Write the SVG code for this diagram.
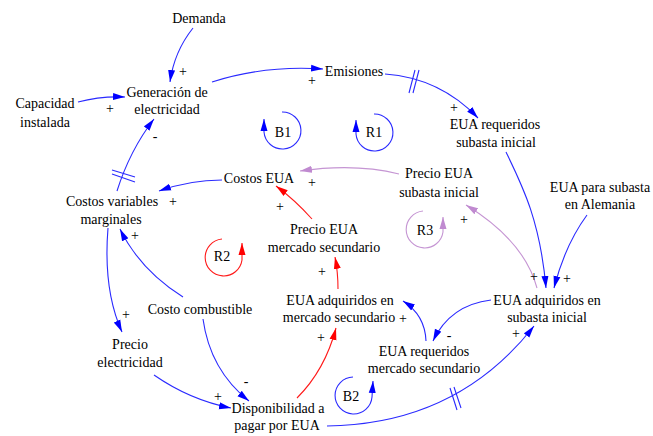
<svg xmlns="http://www.w3.org/2000/svg" width="653" height="436" viewBox="0 0 653 436" font-family="'Liberation Serif', 'DejaVu Serif', 'Times New Roman', Times, serif">
<style>
text{font-family:'Liberation Serif','DejaVu Serif','Times New Roman',Times,serif;font-size:14px;fill:#000;text-anchor:middle}
.b{fill:none;stroke:#2a2aff;stroke-width:1.1}
.p{fill:none;stroke:#c595d3;stroke-width:1.1}
.r{fill:none;stroke:#ff1a1a;stroke-width:1.1}
.h{fill:none;stroke:#2a2aff;stroke-width:1.1}
</style>
<defs>
<marker id="ab" markerUnits="userSpaceOnUse" markerWidth="13" markerHeight="8" refX="12" refY="4" orient="auto"><path d="M0,0.5 L12,4 L0,7.5 z" fill="#0000ff"/></marker>
<marker id="ap" markerUnits="userSpaceOnUse" markerWidth="13" markerHeight="8" refX="12" refY="4" orient="auto"><path d="M0,0.5 L12,4 L0,7.5 z" fill="#c08ad0"/></marker>
<marker id="ar" markerUnits="userSpaceOnUse" markerWidth="13" markerHeight="8" refX="12" refY="4" orient="auto"><path d="M0,0.5 L12,4 L0,7.5 z" fill="#ff0000"/></marker>
</defs>

<g id="connectors">
<path class="b" d="M193,28 Q174,52 170,82" marker-end="url(#ab)"/>
<path class="b" d="M78,102 Q100,96 125,97" marker-end="url(#ab)"/>
<path class="b" d="M212,82 Q265,65 323,69" marker-end="url(#ab)"/>
<path class="b" d="M385,74 Q440,78 478,118" marker-end="url(#ab)"/>
<path class="h" d="M409,93 L415,70 M413,93 L419,70"/>
<path class="b" d="M506,152 C522,185 540,220 546,288" marker-end="url(#ab)"/>
<path class="b" d="M587,215 Q565,245 554,288" marker-end="url(#ab)"/>
<path class="p" d="M537,288 C530,262 510,232 466,205" marker-end="url(#ap)"/>
<path class="p" d="M399,174 Q355,163 300,171" marker-end="url(#ap)"/>
<path class="b" d="M222,180 Q190,180 159,191" marker-end="url(#ab)"/>
<path class="r" d="M312,219 Q295,200 276,186" marker-end="url(#ar)"/>
<path class="r" d="M338,289 Q338,272 335,257" marker-end="url(#ar)"/>
<path class="r" d="M297,398 Q325,370 336,328" marker-end="url(#ar)"/>
<path class="b" d="M491,300 Q450,305 433,341" marker-end="url(#ab)"/>
<path class="b" d="M426,341 Q425,315 403,301" marker-end="url(#ab)"/>
<path class="b" d="M327,426 C410,425 480,395 534,326" marker-end="url(#ab)"/>
<path class="h" d="M450,388 L457,410 M454,387 L461,408"/>
<path class="b" d="M183,297 Q140,270 120,229" marker-end="url(#ab)"/>
<path class="b" d="M203,319 Q210,370 249,401" marker-end="url(#ab)"/>
<path class="b" d="M154,375 Q190,400 231,408" marker-end="url(#ab)"/>
<path class="b" d="M108,228 Q103,290 122,332" marker-end="url(#ab)"/>
<path class="b" d="M117,191 Q130,150 154,119" marker-end="url(#ab)"/>
<path class="h" d="M112,170 L135,177 M112,174 L135,182"/>
</g>

<g id="polarities">
<text x="183" y="76">+</text>
<text x="110" y="113">+</text>
<text x="312" y="85">+</text>
<text x="454" y="112">+</text>
<text x="534" y="281">+</text>
<text x="567" y="283">+</text>
<text x="464" y="224">+</text>
<text x="312" y="187">+</text>
<text x="173" y="206">+</text>
<text x="280" y="211">+</text>
<text x="322" y="276">+</text>
<text x="321" y="342">+</text>
<text x="449" y="340">-</text>
<text x="403" y="323">+</text>
<text x="516" y="338">+</text>
<text x="135" y="240">+</text>
<text x="246" y="386">-</text>
<text x="218" y="401">+</text>
<text x="126" y="319">+</text>
<text x="155" y="141">-</text>
</g>

<g id="loop-B1">
<path class="b" d="M282,112 A18.5,18.5 0 1 1 264,132 L264,119" marker-end="url(#ab)"/>
<text x="283" y="137">B1</text>
</g>
<g id="loop-R1">
<path class="b" d="M374,114 A18.5,18.5 0 1 1 356,134 L356,120" marker-end="url(#ab)"/>
<text x="374" y="137">R1</text>
</g>
<g id="loop-R2">
<path class="r" d="M222,239 A18.5,18.5 0 1 0 242,260 L242,243" marker-end="url(#ar)"/>
<text x="222" y="261">R2</text>
</g>
<g id="loop-R3">
<path class="p" d="M423,211 A18.5,18.5 0 1 0 443,232 L443,217" marker-end="url(#ap)"/>
<text x="425" y="235">R3</text>
</g>
<g id="loop-B2">
<path class="b" d="M353,377 A18.5,18.5 0 1 0 372,397 L373,381" marker-end="url(#ab)"/>
<text x="351" y="401">B2</text>
</g>

<g id="demanda"><text x="199" y="23">Demanda</text></g>
<g id="generacion"><text x="167" y="97">Generación de</text><text x="167" y="114">electricidad</text></g>
<g id="capacidad"><text x="45" y="108">Capacidad</text><text x="45" y="127">instalada</text></g>
<g id="emisiones"><text x="354" y="76">Emisiones</text></g>
<g id="eua-req-si"><text x="495" y="129">EUA requeridos</text><text x="496" y="147">subasta inicial</text></g>
<g id="costos-var"><text x="112" y="206">Costos variables</text><text x="111" y="224">marginales</text></g>
<g id="costos-eua"><text x="259" y="183">Costos EUA</text></g>
<g id="precio-eua-ms"><text x="324" y="234">Precio EUA</text><text x="324" y="252">mercado secundario</text></g>
<g id="precio-eua-si"><text x="439" y="178">Precio EUA</text><text x="439" y="197">subasta inicial</text></g>
<g id="eua-alemania"><text x="600" y="192">EUA para subasta</text><text x="600" y="209">en Alemania</text></g>
<g id="eua-adq-si"><text x="547" y="305">EUA adquiridos en</text><text x="547" y="322">subasta inicial</text></g>
<g id="eua-adq-ms"><text x="340" y="305">EUA adquiridos en</text><text x="339" y="322">mercado secundario</text></g>
<g id="eua-req-ms"><text x="424" y="356">EUA requeridos</text><text x="424" y="373">mercado secundario</text></g>
<g id="costo-comb"><text x="200" y="314">Costo combustible</text></g>
<g id="precio-elec"><text x="130" y="349">Precio</text><text x="130" y="367">electricidad</text></g>
<g id="disponibilidad"><text x="278" y="413">Disponibilidad a</text><text x="277" y="430">pagar por EUA</text></g>
</svg>
